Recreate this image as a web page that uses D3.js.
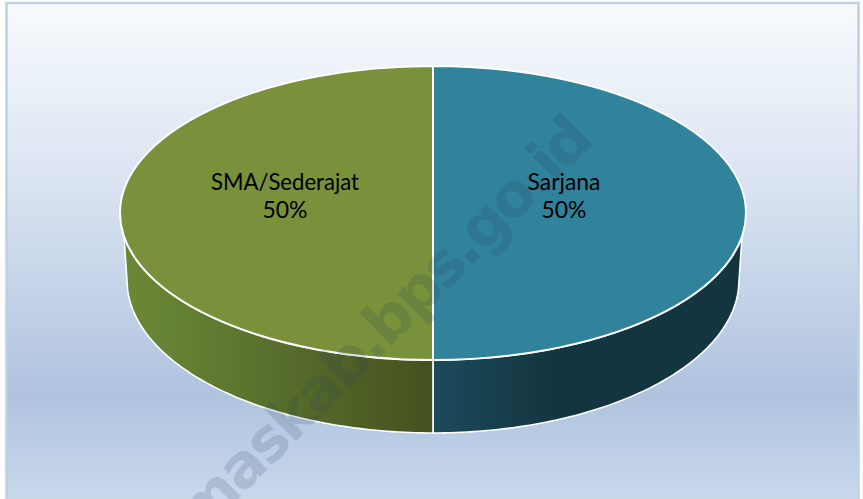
<!DOCTYPE html>
<html><head><meta charset="utf-8">
<script src="https://cdn.jsdelivr.net/npm/d3@7/dist/d3.min.js"></script>
<style>html,body{margin:0;padding:0;background:#fff;overflow:hidden}svg{display:block}</style>
</head><body><svg id="c" width="863" height="499"></svg>
<script>
const categories = ["Sarjana", "SMA/Sederajat"];
const seriesValues = [50, 50];
const percentLabels = ["50%", "50%"];
const topColors = ["#31829b", "#78913a"];
const sideStops = [
  [["0%", "#1c4a5c"], ["40%", "#13353f"], ["100%", "#13353f"]],
  [["0%", "#6b8836"], ["30%", "#5f7a30"], ["60%", "#546829"], ["100%", "#45511f"]]
];
const watermark = "maskab.bps.go.id";

const W = 863, H = 499;
const svg = d3.select("#c");
const defs = svg.append("defs");

const bg = defs.append("linearGradient").attr("id", "bg").attr("x1", 0).attr("y1", 0).attr("x2", 0).attr("y2", 1);
[["0%", "#f8fbfe"], ["40%", "#d6e1ef"], ["78%", "#afc3df"], ["100%", "#c9d9ec"]]
  .forEach(s => bg.append("stop").attr("offset", s[0]).attr("stop-color", s[1]));

svg.append("rect").attr("width", W).attr("height", H).attr("fill", "#fff");
svg.append("rect").attr("x", 6.5).attr("y", 3).attr("width", 852).attr("height", 500)
  .attr("fill", "url(#bg)").attr("stroke", "#bcd0e8").attr("stroke-width", 2.5);

const cx = 433, topCy = 213, rx = 313, ry = 147;
const botCy = 280, brx = 306, bry = 153;
const pie = d3.pie().sort(null).value(d => d)(seriesValues);

const ex = (a, r) => d3.scaleLinear().domain([-1, 1]).range([cx - r, cx + r])(Math.sin(a));
const ey = (a, c, r) => d3.scaleLinear().domain([-1, 1]).range([c - r, c + r])(-Math.cos(a));
const line = d3.line();
const sweep = (from, to) => d3.range(0, 81).map(k => from + (to - from) * k / 80);

pie.forEach((p, i) => {
  const id = "side" + i;
  const g = defs.append("linearGradient").attr("id", id).attr("gradientUnits", "userSpaceOnUse")
    .attr("x1", i === 0 ? cx : cx - brx).attr("x2", i === 0 ? cx + brx : cx).attr("y1", 0).attr("y2", 0);
  sideStops[i].forEach(s => g.append("stop").attr("offset", s[0]).attr("stop-color", s[1]));
  const topAngles = i === 0 ? sweep(Math.PI / 2 + 0.16, Math.PI) : sweep(Math.PI, 3 * Math.PI / 2 - 0.16);
  const botAngles = i === 0 ? sweep(Math.PI, Math.PI / 2 + 0.06) : sweep(3 * Math.PI / 2 - 0.06, Math.PI);
  const pts = topAngles.map(a => [ex(a, rx), ey(a, topCy, ry)])
    .concat(botAngles.map(a => [ex(a, brx), ey(a, botCy, bry)]));
  svg.append("path").attr("d", line(pts) + "Z").attr("fill", `url(#${id})`)
    .attr("stroke", "#fff").attr("stroke-width", 1.6).attr("stroke-linejoin", "round");
});

const R = 100;
const arc = d3.arc().innerRadius(0).outerRadius(R);
const topFace = svg.append("g").attr("transform", `translate(${cx},${topCy}) scale(${rx / R},${ry / R})`);
topFace.selectAll("path").data(pie).join("path")
  .attr("d", arc).attr("fill", (d, i) => topColors[i])
  .attr("stroke", "#fff").attr("stroke-width", 2).attr("vector-effect", "non-scaling-stroke");

svg.append("text").attr("transform", "translate(200,537) rotate(-45)")
  .attr("font-family", "DejaVu Sans, sans-serif").attr("font-weight", 700)
  .attr("font-size", 60).attr("fill", "#24405c").attr("fill-opacity", 0.16)
  .attr("textLength", 560).text(watermark);

const labelX = [564, 285], labelY = [190, 218];
const labelWidth = [73, 148];
categories.forEach((c, i) => {
  const t = svg.append("text").attr("text-anchor", "middle")
    .attr("font-family", "Lato, Carlito, sans-serif").attr("font-size", 23).attr("fill", "#000");
  t.append("tspan").attr("x", labelX[i]).attr("y", labelY[0])
    .attr("textLength", labelWidth[i]).attr("lengthAdjust", "spacingAndGlyphs").text(c);
  t.append("tspan").attr("x", labelX[i]).attr("y", labelY[1]).text(percentLabels[i]);
});
</script></body></html>
